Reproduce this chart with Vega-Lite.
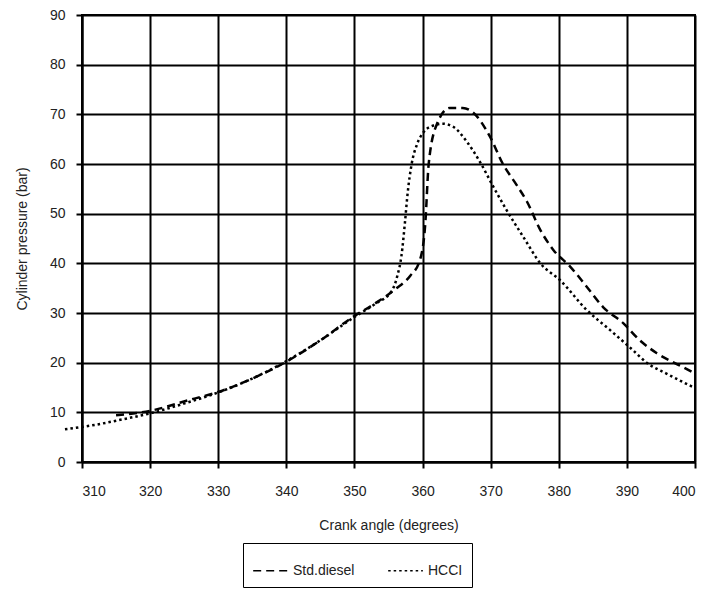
{
  "$schema": "https://vega.github.io/schema/vega-lite/v6.json",
  "autosize": {"type": "none"},
  "width": 613,
  "height": 447,
  "padding": {"left": 82, "top": 15, "right": 15, "bottom": 132},
  "background": "white",
  "config": {
    "font": "Liberation Sans",
    "view": {"stroke": "black", "strokeWidth": 2},
    "axis": {
      "gridColor": "black", "gridOpacity": 1, "gridWidth": 2,
      "domainColor": "black", "domainWidth": 2,
      "tickColor": "black", "tickWidth": 2, "tickSize": 6,
      "labelFont": "Liberation Sans", "labelFontSize": 14, "labelColor": "#222",
      "titleFont": "Liberation Sans", "titleFontSize": 14, "titleFontWeight": "normal", "titleColor": "#222"
    }
  },
  "data": {
    "values": [
      {"angle": 307.5, "p": 6.6, "series": "HCCI"},
      {"angle": 312, "p": 7.5, "series": "HCCI"},
      {"angle": 316, "p": 8.6, "series": "HCCI"},
      {"angle": 320, "p": 9.8, "series": "HCCI"},
      {"angle": 326, "p": 12.2, "series": "HCCI"},
      {"angle": 330, "p": 14.0, "series": "HCCI"},
      {"angle": 335, "p": 16.8, "series": "HCCI"},
      {"angle": 340, "p": 20.3, "series": "HCCI"},
      {"angle": 345, "p": 24.5, "series": "HCCI"},
      {"angle": 350, "p": 29.2, "series": "HCCI"},
      {"angle": 353, "p": 31.8, "series": "HCCI"},
      {"angle": 355.5, "p": 34.5, "series": "HCCI"},
      {"angle": 356.3, "p": 37.5, "series": "HCCI"},
      {"angle": 356.9, "p": 41.5, "series": "HCCI"},
      {"angle": 357.4, "p": 48, "series": "HCCI"},
      {"angle": 357.8, "p": 54, "series": "HCCI"},
      {"angle": 358.4, "p": 60, "series": "HCCI"},
      {"angle": 359.2, "p": 64, "series": "HCCI"},
      {"angle": 360.2, "p": 66.5, "series": "HCCI"},
      {"angle": 361.5, "p": 67.7, "series": "HCCI"},
      {"angle": 363, "p": 68.1, "series": "HCCI"},
      {"angle": 364.5, "p": 67.5, "series": "HCCI"},
      {"angle": 366.5, "p": 64.5, "series": "HCCI"},
      {"angle": 368.4, "p": 60.5, "series": "HCCI"},
      {"angle": 370.4, "p": 55.4, "series": "HCCI"},
      {"angle": 372.3, "p": 50.8, "series": "HCCI"},
      {"angle": 374.8, "p": 45.3, "series": "HCCI"},
      {"angle": 377.3, "p": 40.0, "series": "HCCI"},
      {"angle": 380.2, "p": 36.6, "series": "HCCI"},
      {"angle": 384.1, "p": 30.6, "series": "HCCI"},
      {"angle": 387.5, "p": 26.6, "series": "HCCI"},
      {"angle": 390.9, "p": 22.5, "series": "HCCI"},
      {"angle": 392.9, "p": 20.0, "series": "HCCI"},
      {"angle": 395.8, "p": 17.8, "series": "HCCI"},
      {"angle": 400, "p": 14.9, "series": "HCCI"},
      {"angle": 315, "p": 9.4, "series": "Std.diesel"},
      {"angle": 320, "p": 10.3, "series": "Std.diesel"},
      {"angle": 326, "p": 12.6, "series": "Std.diesel"},
      {"angle": 330, "p": 14.1, "series": "Std.diesel"},
      {"angle": 335, "p": 16.8, "series": "Std.diesel"},
      {"angle": 340, "p": 20.2, "series": "Std.diesel"},
      {"angle": 345, "p": 24.5, "series": "Std.diesel"},
      {"angle": 350, "p": 29.4, "series": "Std.diesel"},
      {"angle": 353, "p": 31.9, "series": "Std.diesel"},
      {"angle": 356, "p": 34.8, "series": "Std.diesel"},
      {"angle": 358.2, "p": 37.5, "series": "Std.diesel"},
      {"angle": 359.6, "p": 40.6, "series": "Std.diesel"},
      {"angle": 360.4, "p": 48, "series": "Std.diesel"},
      {"angle": 360.9, "p": 60, "series": "Std.diesel"},
      {"angle": 362.1, "p": 68, "series": "Std.diesel"},
      {"angle": 364.0, "p": 71.3, "series": "Std.diesel"},
      {"angle": 365.9, "p": 71.3, "series": "Std.diesel"},
      {"angle": 367.4, "p": 70.4, "series": "Std.diesel"},
      {"angle": 369.9, "p": 65.5, "series": "Std.diesel"},
      {"angle": 371.8, "p": 60.0, "series": "Std.diesel"},
      {"angle": 373.8, "p": 55.8, "series": "Std.diesel"},
      {"angle": 375.3, "p": 52.5, "series": "Std.diesel"},
      {"angle": 377.3, "p": 46.7, "series": "Std.diesel"},
      {"angle": 379.2, "p": 42.7, "series": "Std.diesel"},
      {"angle": 381.7, "p": 39.3, "series": "Std.diesel"},
      {"angle": 384.1, "p": 35.3, "series": "Std.diesel"},
      {"angle": 386.5, "p": 31.2, "series": "Std.diesel"},
      {"angle": 389.5, "p": 27.9, "series": "Std.diesel"},
      {"angle": 391.9, "p": 24.5, "series": "Std.diesel"},
      {"angle": 394.4, "p": 21.9, "series": "Std.diesel"},
      {"angle": 398.1, "p": 19.2, "series": "Std.diesel"},
      {"angle": 400, "p": 17.8, "series": "Std.diesel"}
    ]
  },
  "mark": {"type": "line", "clip": false, "color": "black", "strokeWidth": 2.5, "interpolate": "monotone"},
  "encoding": {
    "x": {
      "field": "angle", "type": "quantitative",
      "scale": {"domain": [310, 400], "nice": false, "zero": false},
      "axis": {"values": [310, 320, 330, 340, 350, 360, 370, 380, 390, 400], "grid": true, "labelPadding": 16, "titlePadding": 20, "title": "Crank angle (degrees)"}
    },
    "y": {
      "field": "p", "type": "quantitative",
      "scale": {"domain": [0, 90], "nice": false},
      "axis": {"values": [0, 10, 20, 30, 40, 50, 60, 70, 80, 90], "grid": true, "labelPadding": 11, "titlePadding": 20, "title": "Cylinder pressure (bar)"}
    },
    "strokeDash": {
      "field": "series", "type": "nominal",
      "scale": {"domain": ["Std.diesel", "HCCI"], "range": [[8, 5], [2.5, 3]]},
      "legend": {
        "title": null, "orient": "none", "direction": "horizontal",
        "legendX": 161, "legendY": 528,
        "columns": 2, "gridAlign": "all",
        "strokeColor": "black", "fillColor": "white", "padding": 9,
        "symbolType": "stroke", "symbolStrokeColor": "black", "symbolStrokeWidth": 1.5,
        "symbolSize": 1200, "labelFontSize": 14, "labelColor": "#222",
        "columnPadding": 30
      }
    }
  }
}
